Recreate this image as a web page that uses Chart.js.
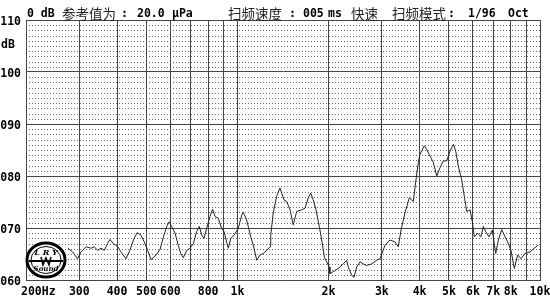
<!DOCTYPE html>
<html>
<head>
<meta charset="utf-8">
<script src="https://cdn.jsdelivr.net/npm/chart.js@4.4.0/dist/chart.umd.min.js"></script>
<style>
  body { margin: 0; background: #fff; }
</style>
</head>
<body>
<canvas id="grafica" width="550" height="301"></canvas>
<script>
// Respuesta en frecuencia (Hz, dB)
var freqHz = [275, 285, 296, 304, 316, 328, 336, 345, 354, 363,
    372, 379, 389, 402, 412, 428, 441, 453, 466, 480,
    492, 505, 518, 538, 555, 569, 584, 595, 606, 622,
    637, 649, 662, 680, 697, 715, 733, 748, 762, 775,
    791, 811, 828, 843, 864, 887, 903, 921, 933, 950,
    974, 1006, 1033, 1045, 1067, 1086, 1106, 1128, 1158, 1187,
    1217, 1249, 1281, 1288, 1313, 1348, 1382, 1425, 1455, 1492,
    1529, 1570, 1631, 1672, 1714, 1746, 1781, 1818, 1864, 1899,
    1937, 1972, 2012, 2022, 2100, 2182, 2238, 2296, 2324, 2386,
    2428, 2478, 2541, 2606, 2674, 2778, 2886, 2960, 3075, 3194,
    3318, 3402, 3472, 3579, 3698, 3812, 3892, 3961, 4013, 4146,
    4223, 4298, 4441, 4557, 4672, 4791, 4917, 5042, 5171, 5265,
    5370, 5510, 5621, 5725, 5870, 5974, 6066, 6224, 6383, 6496,
    6616, 6784, 6957, 7139, 7283, 7474, 7664, 7822, 8020, 8224,
    8440, 8654, 8922, 9268, 9574, 9870];
var levelDb = [66.1, 65.4, 64.1, 65.4, 66.4, 66.1, 66.4, 65.7, 66.1, 65.7,
    67.0, 67.8, 67.0, 66.4, 65.4, 64.1, 65.7, 67.7, 69.1, 68.6,
    67.3, 65.7, 63.9, 64.8, 65.9, 68.3, 70.3, 71.2, 70.3, 69.0,
    66.7, 65.1, 64.3, 65.7, 66.1, 67.0, 69.3, 70.3, 68.6, 68.0,
    69.9, 72.2, 73.6, 72.2, 71.9, 69.9, 69.3, 67.3, 66.1, 68.0,
    68.6, 69.9, 72.5, 73.0, 71.9, 70.3, 68.3, 66.7, 63.8, 64.8,
    65.1, 65.7, 66.4, 68.6, 72.9, 76.1, 77.7, 75.4, 75.1, 73.5,
    70.6, 73.2, 73.5, 73.8, 75.8, 76.7, 75.4, 73.5, 70.3, 67.7,
    64.4, 63.5, 62.5, 61.2, 61.8, 62.5, 63.1, 63.8, 62.5, 60.9,
    60.5, 62.5, 63.5, 63.1, 62.8, 63.1, 63.8, 64.1, 66.7, 67.7,
    67.3, 66.4, 69.6, 72.9, 75.8, 75.1, 79.3, 82.6, 84.2, 85.8,
    85.1, 84.2, 82.6, 80.0, 81.6, 82.9, 82.9, 84.8, 86.1, 84.8,
    81.9, 79.3, 76.1, 73.2, 73.5, 71.2, 68.3, 69.0, 68.3, 70.3,
    69.3, 68.3, 69.6, 65.1, 67.7, 69.7, 68.3, 67.3, 65.7, 62.2,
    64.8, 64.1, 65.1, 65.4, 66.1, 66.7];

// Lineas verticales y etiquetas del eje X
var gridFreqs = [200, 300, 400, 500, 600, 700, 800, 900, 1000, 2000, 3000, 4000, 5000, 6000, 7000, 8000, 9000, 10000];
var tickFreqs = [200, 300, 400, 500, 600, 800, 1000, 2000, 3000, 4000, 5000, 6000, 7000, 8000, 10000];
var tickLabels = ['200Hz', '300', '400', '500', '600', '800', '1k', '2k', '3k', '4k', '5k', '6k', '7k', '8k', '10k'];

// Etiquetas del eje Y
var yTicks = [60, 70, 80, 90, 100, 110];
var yTickLabels = ['060', '070', '080', '090', '100', '110'];

var monoBold = "bold 11.5px 'DejaVu Sans Mono'";
var cjkFont = "13.5px 'Noto Sans CJK SC'";

// Cabecera: [texto, x, tipo de letra]
var cabecera = [
    ['0 dB', 27, 'm'], ['参考值为', 62, 'c'], [':', 121, 'm'], ['20.0', 137, 'm'], ['μPa', 172, 'm'],
    ['扫频速度', 228, 'c'], [':', 289, 'm'], ['005', 303, 'm'], ['ms', 328, 'm'], ['快速', 351, 'c'],
    ['扫频模式', 392, 'c'], [':', 448, 'm'], ['1/96', 468, 'm'], ['Oct', 508, 'm']
];

var rejilla = {
    id: 'rejilla',
    beforeDraw: function (chart) {
        var ctx = chart.ctx, a = chart.chartArea, ys = chart.scales.y;
        ctx.save();
        ctx.strokeStyle = '#666';
        ctx.lineWidth = 1;
        ctx.setLineDash([1, 2]);
        for (var v = 61; v < 110; v++) {
            if (v % 10 === 0) continue;
            var py = Math.round(ys.getPixelForValue(v)) + 0.5;
            ctx.beginPath();
            ctx.moveTo(a.left, py);
            ctx.lineTo(a.right, py);
            ctx.stroke();
        }
        ctx.restore();
    },
    afterDraw: function (chart) {
        var ctx = chart.ctx, a = chart.chartArea, xs = chart.scales.x, ys = chart.scales.y;
        ctx.save();
        ctx.fillStyle = '#000';
        ctx.textBaseline = 'middle';

        // etiquetas del eje X
        ctx.font = monoBold;
        for (var i = 0; i < tickFreqs.length; i++) {
            var px = xs.getPixelForValue(tickFreqs[i]);
            if (i === 0) {
                ctx.textAlign = 'left';
                ctx.fillText(tickLabels[i], px - 5, 292);
            } else {
                ctx.textAlign = 'center';
                ctx.fillText(tickLabels[i], px, 292);
            }
        }

        // etiquetas del eje Y (un poco por debajo de la linea)
        ctx.textAlign = 'right';
        for (var j = 0; j < yTicks.length; j++) {
            ctx.fillText(yTickLabels[j], 21, ys.getPixelForValue(yTicks[j]) + 2.5);
        }
        ctx.textAlign = 'left';
        ctx.fillText('dB', 1, 45);

        // cabecera
        cabecera.forEach(function (p) {
            ctx.font = p[2] === 'c' ? cjkFont : monoBold;
            ctx.fillStyle = p[2] === 'c' ? '#222' : '#000';
            ctx.fillText(p[0], p[1], 14);
        });

        // logotipo
        var cx = a.left + 20, cy = a.bottom - 20;
        ctx.beginPath();
        ctx.ellipse(cx, cy, 19, 17, 0, 0, 2 * Math.PI);
        ctx.fillStyle = '#fff';
        ctx.fill();
        ctx.lineWidth = 3;
        ctx.strokeStyle = '#000';
        ctx.stroke();
        ctx.lineWidth = 1;
        ctx.beginPath();
        ctx.ellipse(cx, cy, 15, 13.5, 0, 0, 2 * Math.PI);
        ctx.stroke();
        ctx.lineWidth = 2;
        ctx.beginPath();
        ctx.moveTo(cx - 17, cy + 1);
        ctx.lineTo(cx + 17, cy + 1);
        ctx.stroke();
        ctx.lineWidth = 1.5;
        ctx.beginPath();
        ctx.moveTo(cx - 5, cy - 3);
        ctx.lineTo(cx - 3, cy + 5);
        ctx.lineTo(cx, cy - 2);
        ctx.lineTo(cx + 3, cy + 5);
        ctx.lineTo(cx + 5, cy - 3);
        ctx.stroke();
        ctx.fillStyle = '#000';
        ctx.textAlign = 'center';
        ctx.font = "italic bold 8px 'DejaVu Serif'";
        ctx.fillText('L R Y', cx, cy - 7);
        ctx.font = "italic bold 7px 'DejaVu Serif'";
        ctx.fillText('Sound', cx, cy + 9);
        ctx.restore();
    }
};

var ctx = document.getElementById('grafica').getContext('2d');
var grafica = new Chart(ctx, {
    type: 'line',
    data: {
        datasets: [{
            data: freqHz.map(function (f, i) { return { x: f, y: levelDb[i] }; }),
            borderColor: '#222',
            borderWidth: 1,
            pointRadius: 0,
            tension: 0,
            fill: false
        }]
    },
    options: {
        responsive: false,
        animation: false,
        layout: { padding: { top: 20, right: 10, left: 0, bottom: 0 } },
        plugins: { legend: { display: false }, tooltip: { enabled: false } },
        scales: {
            x: {
                type: 'logarithmic',
                min: 200,
                max: 10000,
                afterBuildTicks: function (scale) {
                    scale.ticks = gridFreqs.map(function (v) { return { value: v }; });
                },
                afterFit: function (scale) { scale.height = 21; },
                ticks: { display: false },
                grid: { color: '#444', lineWidth: 1, drawTicks: false },
                border: { color: '#444' }
            },
            y: {
                min: 60,
                max: 110,
                afterBuildTicks: function (scale) {
                    scale.ticks = yTicks.map(function (v) { return { value: v }; });
                },
                afterFit: function (scale) { scale.width = 26; },
                ticks: { display: false },
                grid: { color: '#444', lineWidth: 1, drawTicks: false },
                border: { color: '#444' }
            }
        }
    },
    plugins: [rejilla]
});
</script>
</body>
</html>
